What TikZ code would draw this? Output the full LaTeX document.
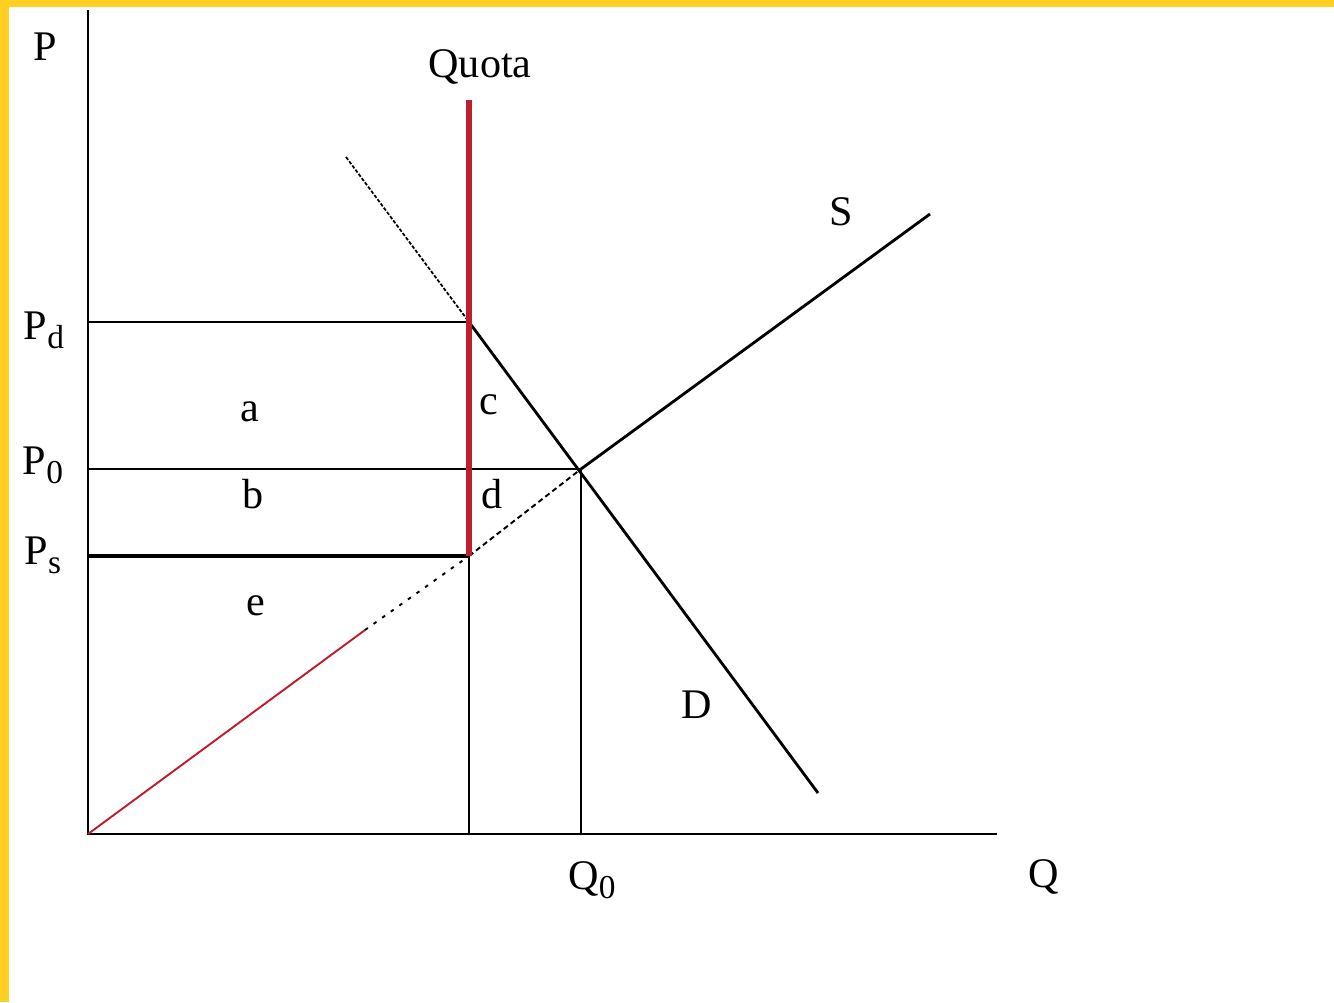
\documentclass[tikz,border=0pt]{standalone}
\usepackage{fontspec}
\setmainfont{Liberation Serif}
\usepackage{xcolor}
\usetikzlibrary{positioning}
\definecolor{cframe}{RGB}{255,208,34}
\definecolor{cquota}{RGB}{190,30,45}
\newcommand{\lowsub}[1]{\raisebox{-0.45ex}{\fontsize{19}{22}\selectfont #1}}

\begin{document}
\begin{tikzpicture}[
  x=0.02cm,y=-0.02cm,
  font=\fontsize{24}{28}\selectfont,
  ax/.style={line width=1.6pt,black},
  ln/.style={line width=1.2pt,black},
  lbl/.style={inner sep=0,anchor=center},
]
% Frame
\fill[cframe] (0,0) rectangle (1334,1002);
\fill[white] (9,7) rectangle (1334,1002);
\useasboundingbox (0,0) rectangle (1334,1002);

% Points
\coordinate (o) at (88,834);
\coordinate (ytop) at (88,10);
\coordinate (xend) at (997,834);
\coordinate (pd) at (88,322);
\coordinate (p0) at (88,469);
\coordinate (ps) at (88,556);
\coordinate (qtop) at (469,100);
\coordinate (qd) at (469,322);
\coordinate (qs) at (469,556);
\coordinate (qbot) at (469,834);
\coordinate (eq) at (581,469);
\coordinate (q0) at (581,834);
\coordinate (dtop) at (346,157);
\coordinate (dend) at (818,793);
\coordinate (sred) at (365,630);
\coordinate (send) at (930,214);

% Axes
\draw[ax] (ytop) -- (o) -- (xend);

% Price lines
\draw[ln] (pd) -- (qd);
\draw[ln] (p0) -- (eq) -- (q0);
\draw[line width=2.8pt] (ps) -- (qs);
\draw[ln] (qs) -- (qbot);

% Supply
\draw[cquota,line width=1.1pt] (o) -- (sred);
\draw[line width=1.1pt,dash pattern=on 2pt off 4pt] (sred) -- (qs);
\draw[line width=1.1pt,dash pattern=on 3pt off 2pt] (qs) -- (eq);
\draw[line width=1.6pt] (eq) -- (send);

% Demand
\draw[line width=1pt,dash pattern=on 2pt off 1pt] (dtop) -- (qd);
\draw[line width=1.6pt] (qd) -- (dend);

% Quota
\draw[cquota,line width=3.2pt] (qtop) -- (qs);

% Labels
\node[lbl] (lp) at (45,47) {P};
\node[lbl] (lquota) at (480,67) {Quota};
\node[lbl] (lpd) at (44,330) {P\lowsub{d}};
\node[lbl] (lp0) at (43,465) {P\lowsub{0}};
\node[lbl] (lps) at (43,555) {P\lowsub{s}};
\node[lbl] (la) at (250,412) {a};
\node[lbl] (lb) at (253,494) {b};
\node[lbl] (lc) at (489,405) {c};
\node[lbl] (ld) at (492,494) {d};
\node[lbl] (le) at (256,606) {e};
\node[lbl] (ls) at (841,212) {S};
\node[lbl] (ldd) at (697,705) {D};
\node[lbl] (lq0) at (592,880) {Q\lowsub{0}};
\node[lbl] (lq) at (1044,877) {Q};
\end{tikzpicture}
\end{document}
